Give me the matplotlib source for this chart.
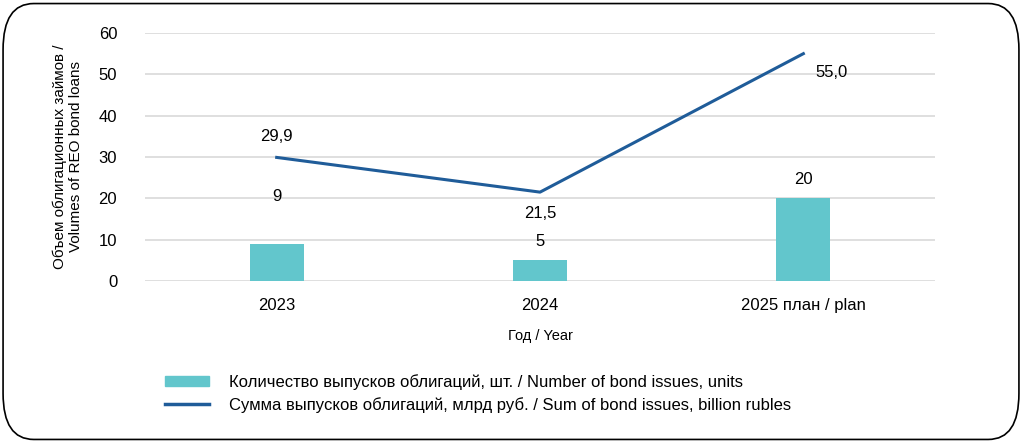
import matplotlib.pyplot as plt
from matplotlib.patches import FancyBboxPatch, Patch
from matplotlib.lines import Line2D

plt.rcParams['font.family'] = ['Liberation Sans', 'DejaVu Sans']

# Data
years = ['2023', '2024', '2025 план / plan']
issues_count = [9, 5, 20]
issues_sum = [29.9, 21.5, 55.0]
count_labels = ['9', '5', '20']
sum_labels = ['29,9', '21,5', '55,0']

bar_color = '#62C6CC'
line_color = '#1F5C99'

fig = plt.figure(figsize=(10.22, 4.43), dpi=100)
ax = fig.add_axes([0.1419, 0.3657, 0.7730, 0.5598])

x = list(range(len(years)))
ax.bar(x, issues_count, width=0.205, color=bar_color, zorder=2)
ax.plot(x, issues_sum, color=line_color, linewidth=2.2, zorder=3)

# data labels
count_offsets = [29, 8, 8]
for xi, v, t, dy in zip(x, issues_count, count_labels, count_offsets):
    ax.annotate(t, (xi, v), xytext=(0, dy), textcoords='offset points',
                ha='center', va='bottom', fontsize=12)
offsets = [(0, 10, 'center', 'bottom'), (0, -10, 'center', 'top'), (8.5, -8, 'left', 'top')]
for xi, v, t, (dx, dy, ha, va) in zip(x, issues_sum, sum_labels, offsets):
    ax.annotate(t, (xi, v), xytext=(dx, dy), textcoords='offset points',
                ha=ha, va=va, fontsize=12)

ax.set_xlim(-0.5, 2.5)
ax.set_ylim(0, 60)
ax.set_yticks(range(0, 61, 10))
ax.set_xticks(x)
ax.set_xticklabels(years)
ax.tick_params(axis='both', length=0, labelsize=12)
ax.tick_params(axis='x', pad=12)
ax.tick_params(axis='y', pad=20)
ax.grid(axis='y', color='#D9D9D9', linewidth=1.2, zorder=0)
for s in ax.spines.values():
    s.set_visible(False)

ax.set_ylabel('Объем облигационных займов /\nVolumes of REO bond loans', fontsize=11, labelpad=11)
ax.set_xlabel('Год / Year', fontsize=10.5, labelpad=12)

handles = [Patch(color=bar_color),
           Line2D([0], [0], color=line_color, linewidth=2.5)]
labels = ['Количество выпусков облигаций, шт. / Number of bond issues, units',
          'Сумма выпусков облигаций, млрд руб. / Sum of bond issues, billion rubles']
fig.legend(handles, labels, loc='upper left', bbox_to_anchor=(0.147, 0.19),
           frameon=False, fontsize=12, handlelength=2.6, handletextpad=1.2,
           handleheight=0.6, labelspacing=0.45)

# rounded frame
frame = FancyBboxPatch((0.003, 0.008), 0.994, 0.984, boxstyle='round,pad=0,rounding_size=0.03',
                       transform=fig.transFigure, fill=False, edgecolor='black',
                       linewidth=1.2, mutation_aspect=1022 / 443 * 1.5)
fig.patches.append(frame)

fig.savefig('out.png', dpi=100)
